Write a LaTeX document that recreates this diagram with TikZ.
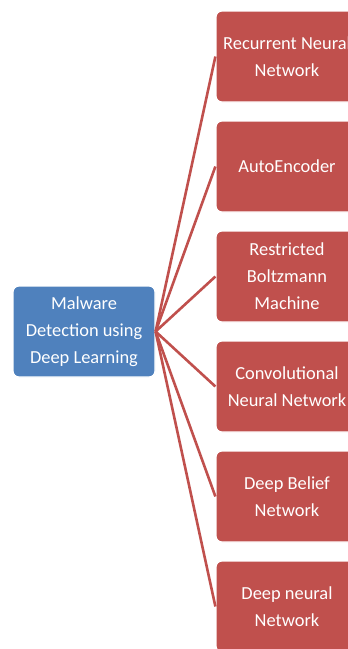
\documentclass[tikz,border=0pt]{standalone}
\usepackage{fontspec}
\setmainfont{Carlito}
\definecolor{boxblue}{HTML}{4F81BD}
\definecolor{boxred}{HTML}{C0504D}

\begin{document}
\begin{tikzpicture}[x=1pt, y=-1pt,
	box/.style={rounded corners=6pt, draw=white, line width=1.2pt, text=white,
		minimum width=142pt, minimum height=91pt, align=center,
		font=\fontsize{18.4}{27}\selectfont},
	link/.style={color=boxred, line width=2.6pt}]
	\clip (0,0) rectangle (348,649);
	\node[box, fill=boxblue] (root) at (84, 331.5) {Malware\\ Detection using\\ Deep Learning};
	\node[box, fill=boxred] (rnn) at (287, 56.5) {Recurrent Neural\\ Network};
	\node[box, fill=boxred] (ae) at (287, 166.5) {AutoEncoder};
	\node[box, fill=boxred] (rbm) at (287, 276.5) {Restricted\\ Boltzmann\\ Machine};
	\node[box, fill=boxred] (cnn) at (287, 386.5) {Convolutional\\ Neural Network};
	\node[box, fill=boxred] (dbn) at (287, 496.5) {Deep Belief\\ Network};
	\node[box, fill=boxred] (dnn) at (287, 606.5) {Deep neural\\ Network};
	\foreach \n in {rnn, ae, rbm, cnn, dbn, dnn}
		\draw[link] (root.east) -- (\n.west);
\end{tikzpicture}
\end{document}
